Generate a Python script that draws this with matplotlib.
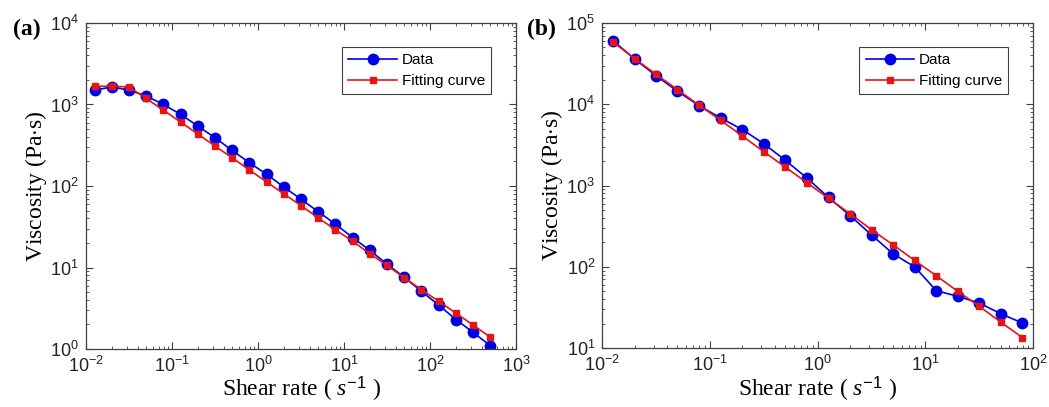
import matplotlib
matplotlib.use("Agg")
import matplotlib.pyplot as plt
from matplotlib.ticker import LogLocator, NullFormatter

plt.rcParams['font.family'] = ['Liberation Sans', 'DejaVu Sans']
plt.rcParams['mathtext.fontset'] = 'custom'
plt.rcParams['mathtext.rm'] = 'Liberation Sans'
plt.rcParams['mathtext.it'] = 'Liberation Serif:italic'

# panel (a)
rate_a = [0.0126, 0.02, 0.0316, 0.05, 0.0794, 0.126, 0.2, 0.316, 0.5, 0.794,
          1.26, 2, 3.16, 5, 7.94, 12.6, 20, 31.6, 50, 79.4, 126, 200, 316, 500]
data_a = [1500, 1645, 1500, 1277, 1000, 755, 543, 391, 273, 193,
          139, 97, 68.7, 48.5, 34, 23.3, 16.2, 11, 7.6, 5.1, 3.45, 2.3, 1.6, 1.1]
fit_a = [1675, 1675, 1645, 1185, 853, 607, 434, 309, 222, 157,
         112, 79.8, 57.4, 40.7, 29, 21, 14.7, 10.6, 7.5, 5.35, 3.84, 2.75, 1.97, 1.4]

# panel (b)
rate_b = [0.0126, 0.02, 0.0316, 0.05, 0.0794, 0.126, 0.2, 0.316, 0.5, 0.794,
          1.26, 2, 3.16, 5, 7.94, 12.6, 20, 31.6, 50, 79.4]
data_b = [60800, 36100, 22500, 14500, 9600, 6790, 4880, 3280, 2050, 1240,
          716, 427, 247, 145, 100, 51, 43.4, 35.9, 26.5, 20.4]
fit_b = [58500, 36500, 23400, 15150, 9730, 6350, 4070, 2610, 1690, 1087,
         697, 451, 286, 187, 120, 77.8, 49.9, 32.7, 20.9, 13.5]

blue = '#0000e6'
red = '#e61414'
edge = '#404040'

fig = plt.figure(figsize=(10.49, 4.07), dpi=100)
ax1 = fig.add_axes([0.082, 0.1425, 0.41, 0.801])
ax2 = fig.add_axes([0.574, 0.1445, 0.411, 0.799])

panels = [
    (ax1, rate_a, data_a, fit_a, (1e-2, 1e3), (1e0, 1e4)),
    (ax2, rate_b, data_b, fit_b, (1e-2, 1e2), (1e1, 1e5)),
]

for ax, x, d, f, xl, yl in panels:
    ax.plot(x, d, '-o', color=blue, lw=1.2, ms=7.5, label='Data')
    ax.plot(x, f, '-s', color=red, lw=1.2, ms=5, label='Fitting curve')
    ax.set_xscale('log')
    ax.set_yscale('log')
    ax.set_xlim(*xl)
    ax.set_ylim(*yl)
    ax.xaxis.set_major_locator(LogLocator(base=10, numticks=20))
    ax.yaxis.set_major_locator(LogLocator(base=10, numticks=20))
    ax.xaxis.set_minor_locator(LogLocator(base=10, subs=range(2, 10), numticks=100))
    ax.yaxis.set_minor_locator(LogLocator(base=10, subs=range(2, 10), numticks=100))
    ax.xaxis.set_minor_formatter(NullFormatter())
    ax.yaxis.set_minor_formatter(NullFormatter())
    ax.tick_params(which='both', direction='in', top=True, right=True,
                   color=edge, labelsize=13, labelcolor='#222222')
    ax.tick_params(which='major', length=5, width=0.8, pad=5)
    ax.tick_params(which='minor', length=2.5, width=0.6)
    for sp in ax.spines.values():
        sp.set_color(edge)
        sp.set_linewidth(0.9)
    ax.set_xlabel('Shear rate ( $s^{-1}$ )', family='Liberation Serif',
                  fontsize=17, labelpad=-1)
    ax.set_ylabel('Viscosity (Pa$\\cdot$s)', family='Liberation Serif',
                  fontsize=17, labelpad=1)
    leg = ax.legend(loc='upper right', bbox_to_anchor=(0.96, 0.95), fontsize=11,
                    fancybox=False, framealpha=1, handlelength=3.2,
                    borderpad=0.4, labelspacing=0.45, handletextpad=0.3)
    leg.get_frame().set_edgecolor(edge)
    leg.get_frame().set_linewidth(0.8)

fig.text(0.012, 0.915, '(a)', family='Liberation Serif', fontweight='bold', fontsize=17)
fig.text(0.502, 0.915, '(b)', family='Liberation Serif', fontweight='bold', fontsize=17)

fig.savefig('out.png', dpi=100)
